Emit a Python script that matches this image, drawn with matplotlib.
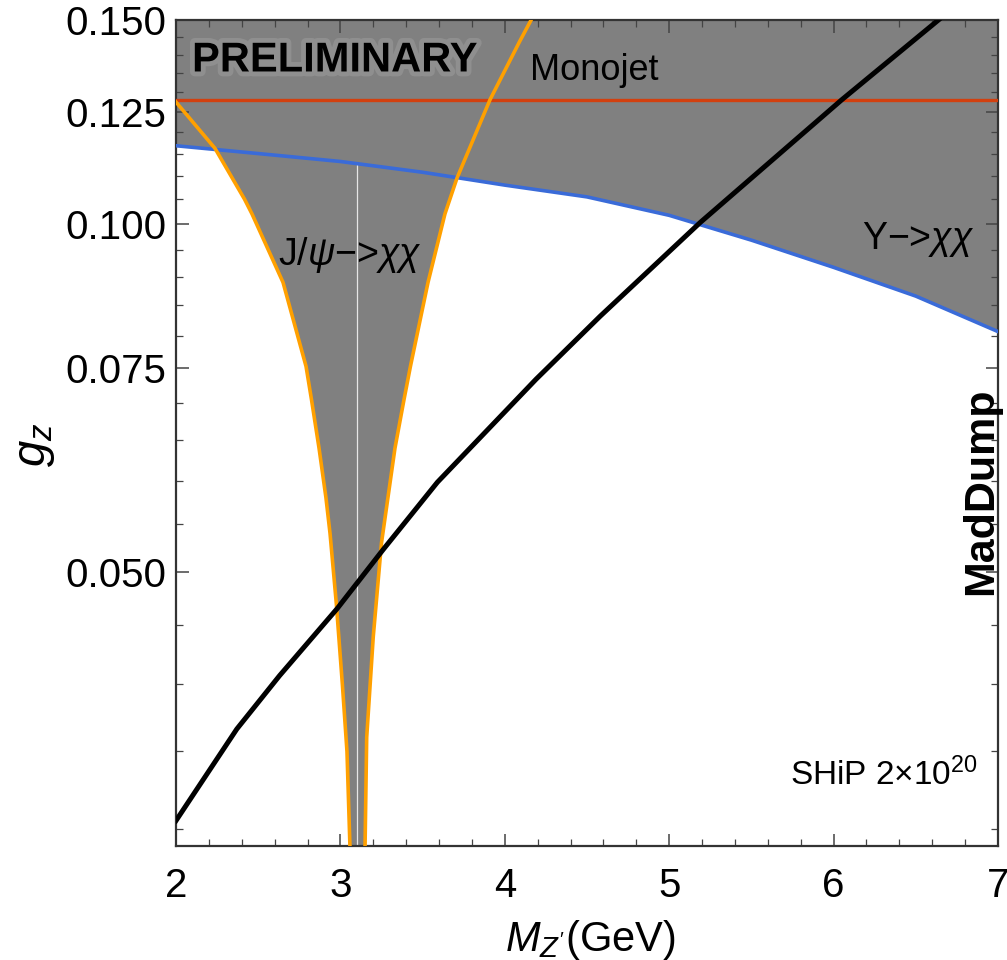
import numpy as np
import matplotlib
matplotlib.use('Agg')
import matplotlib.pyplot as plt
import matplotlib.patheffects as pe
from matplotlib.ticker import FixedLocator, FixedFormatter, NullFormatter

plt.rcParams['font.family'] = ['Liberation Sans', 'DejaVu Sans']
plt.rcParams['mathtext.fontset'] = 'custom'
plt.rcParams['mathtext.rm'] = 'Liberation Sans'
plt.rcParams['mathtext.it'] = 'Liberation Sans:italic'
plt.rcParams['mathtext.bf'] = 'Liberation Sans:bold'

# Upsilon -> chi chi bound (blue)
ups_mass = [2.0, 2.5, 3.0, 3.5, 4.0, 4.5, 5.0, 5.5, 6.0, 6.5, 7.0]
ups_g = [0.1168, 0.1150, 0.1132, 0.1108, 0.1080, 0.1055, 0.1017, 0.0968, 0.0917, 0.0866, 0.0807]

# SHiP / MadDump sensitivity (black)
ship_mass = [2.0, 2.37, 2.63, 2.98, 3.26, 3.59, 4.19, 4.58, 5.19, 6.05, 6.65]
ship_g = [0.0305, 0.0366, 0.0407, 0.0465, 0.0523, 0.0598, 0.0734, 0.0832, 0.1003, 0.1280, 0.1505]

# monojet bound (red)
monojet_g = 0.128

# J/psi -> chi chi bound (orange), two branches around the J/psi mass
jpsi_left_g = [0.029, 0.035, 0.040, 0.047, 0.054, 0.058, 0.064, 0.0705, 0.0753, 0.089,
               0.102, 0.105, 0.1162, 0.1274]
jpsi_left_mass = [3.058, 3.040, 3.012, 2.975, 2.937, 2.912, 2.870, 2.824, 2.791, 2.651,
                  2.462, 2.417, 2.237, 2.0]
jpsi_right_g = [0.029, 0.036, 0.044, 0.053, 0.064, 0.0705, 0.0753, 0.089, 0.102, 0.1095,
                0.128, 0.1437, 0.150]
jpsi_right_mass = [3.150, 3.160, 3.200, 3.250, 3.332, 3.387, 3.426, 3.533, 3.636, 3.709,
                   3.910, 4.090, 4.160]
jpsi_mass = 3.1

y_ticks = [0.050, 0.075, 0.100, 0.125, 0.150]
y_ticklabels = ['0.050', '0.075', '0.100', '0.125', '0.150']

fig = plt.figure(figsize=(10.07, 9.6), dpi=100)
ax = fig.add_axes([176 / 1007, 114 / 960, 822 / 1007, 826 / 960])
ax.set_yscale('log')
ax.set_xlim(2, 7)
ax.set_ylim(0.029, 0.15)

gray = '#808080'
# excluded region above the Upsilon curve
ax.fill_between(ups_mass, ups_g, [0.2] * len(ups_mass), color=gray, lw=0, zorder=1)
# excluded region inside the J/psi funnel
poly_x = list(jpsi_left_mass) + list(jpsi_right_mass[::-1])
poly_y = list(jpsi_left_g) + list(jpsi_right_g[::-1])
ax.fill(poly_x, poly_y, color=gray, lw=0, zorder=1)
ax.plot([jpsi_mass, jpsi_mass], [0.029, np.interp(jpsi_mass, ups_mass, ups_g)],
        color='#e6e6e6', lw=0.9, zorder=2)

ax.plot(ups_mass, ups_g, color='#3A6BD8', lw=2.6, zorder=3)
ax.axhline(monojet_g, color='#D2400F', lw=2.4, zorder=3)
ax.plot(jpsi_left_mass, jpsi_left_g, color='#FFA000', lw=2.6, zorder=4, solid_joinstyle='round')
ax.plot(jpsi_right_mass, jpsi_right_g, color='#FFA000', lw=2.6, zorder=4, solid_joinstyle='round')
ax.plot(ship_mass, ship_g, color='black', lw=3.6, zorder=5, solid_joinstyle='round')

# ticks
ax.yaxis.set_major_locator(FixedLocator(y_ticks))
ax.yaxis.set_major_formatter(FixedFormatter(y_ticklabels))
minor_y = [0.030, 0.035, 0.040, 0.045, 0.055, 0.060, 0.065, 0.070, 0.080, 0.085, 0.090,
           0.095, 0.105, 0.110, 0.115, 0.120, 0.130, 0.135, 0.140, 0.145]
ax.yaxis.set_minor_locator(FixedLocator(minor_y))
ax.yaxis.set_minor_formatter(NullFormatter())
ax.xaxis.set_major_locator(FixedLocator([2, 3, 4, 5, 6, 7]))
ax.xaxis.set_minor_locator(FixedLocator(np.arange(2, 7.01, 0.2)))
ax.tick_params(which='both', direction='in', top=True, right=True, color='#444444')
ax.tick_params(which='major', length=9, width=1.1, labelsize=29, pad=7)
ax.tick_params(which='minor', length=5, width=0.9)
ax.tick_params(axis='x', which='major', pad=15)
for sp in ax.spines.values():
    sp.set_linewidth(1.6)
    sp.set_color('#333333')

# labels
fig.text(35 / 1007, 1 - 445 / 960, '$g_z$', fontsize=34, rotation=90, ha='center', va='center')
fig.text(590 / 1007, 1 - 940 / 960, "$M_{Z'}$(GeV)", fontsize=30, ha='center', va='center')

ax.text(0.0195, 0.951, 'PRELIMINARY', transform=ax.transAxes, fontsize=30, fontweight='bold',
        ha='left', va='center', zorder=6,
        path_effects=[pe.withStroke(linewidth=7, foreground='#8f8f8f')])
ax.text(0.431, 0.939, 'Monojet', transform=ax.transAxes, fontsize=26, ha='left', va='center', zorder=6)
ax.text(0.124, 0.715, r'J/$\psi$−>$\chi\chi$', transform=ax.transAxes, fontsize=27,
        ha='left', va='center', zorder=6)
ax.text(0.835, 0.734, r'Υ−>$\chi\chi$', transform=ax.transAxes, fontsize=27,
        ha='left', va='center', zorder=6)
ax.text(0.976, 0.086, r'SHiP 2×10$^{20}$', transform=ax.transAxes, fontsize=24,
        ha='right', va='center', zorder=6)
ax.text(0.979, 0.43, 'MadDump', transform=ax.transAxes, fontsize=31, fontweight='bold',
        rotation=90, ha='center', va='center', zorder=6)

fig.savefig('out.png', dpi=100)
